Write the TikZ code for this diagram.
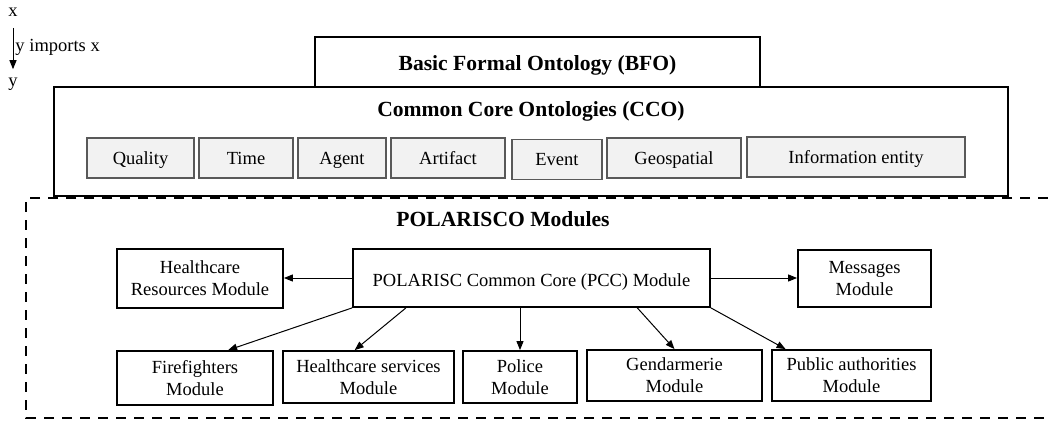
\documentclass[tikz,border=0pt]{standalone}
\usepackage{fontspec}
\setmainfont{Liberation Serif}
\usetikzlibrary{arrows.meta,calc}
\begin{document}
\begin{tikzpicture}[x=1pt,y=-1pt,font=\fontsize{18.5}{22}\selectfont,
  mod/.style={draw,line width=1.8pt,align=center,inner sep=0pt},
  part/.style={draw=black!65,fill=black!5,line width=1.4pt,inner sep=0pt,minimum height=40pt,text height=15pt,text depth=3pt},
  imp/.style={-{Triangle[length=9pt,width=7pt]},line width=1pt},
  title/.style={font=\fontsize{21.6}{24}\selectfont\bfseries}]
\useasboundingbox (0,0) rectangle (1048,420);
\draw [line width=2pt,dash pattern=on 10pt off 8pt] (1048,198) -- (26,198) -- (26,418) -- (1048,418);
\node (x) at (13,12) {x};
\node (y) at (13,84) {y};
\draw [imp,shorten <=8pt,shorten >=5pt] (x) -- (y) node (imports) [midway,right,inner sep=2pt] {y imports x};
\node (cco) [mod,minimum width=954pt,minimum height=109pt] at (531,141.5) {};
\node (ccotitle) [title] at (531,111) {Common Core Ontologies (CCO)};
\node (bfo) [mod,minimum width=445pt,minimum height=50pt] at (537.5,62) {};
\node (bfotitle) [title] at (537.5,65) {Basic Formal Ontology (BFO)};
\node (quality) [part,minimum width=107pt] at (140.5,158) {Quality};
\node (time) [part,minimum width=94pt] at (246,158) {Time};
\node (agent) [part,minimum width=88pt] at (342,158) {Agent};
\node (artifact) [part,minimum width=114pt] at (448,158) {Artifact};
\node (event) [part,minimum width=90pt] at (557,159.5) {Event};
\node (geo) [part,minimum width=134pt] at (674,158) {Geospatial};
\node (info) [part,minimum width=218pt] at (856,157) {Information entity};
\node (poltitle) [title] at (503,219) {POLARISCO Modules};
\node (hr) [mod,minimum width=166pt,minimum height=59pt] at (200,278.5) {Healthcare\\Resources Module};
\node (pcc) [mod,minimum width=357pt,minimum height=58pt,text height=17pt,text depth=1pt] at (531.5,278) {POLARISC Common Core (PCC) Module};
\node (msg) [mod,minimum width=133pt,minimum height=57pt] at (864.5,278.5) {Messages\\Module};
\node (ff) [mod,minimum width=156pt,minimum height=54pt] at (195,378) {Firefighters\\Module};
\node (hs) [mod,minimum width=171pt,minimum height=52pt] at (368.5,377) {Healthcare services\\Module};
\node (police) [mod,minimum width=114pt,minimum height=52pt] at (520,377) {Police\\Module};
\node (gend) [mod,minimum width=175pt,minimum height=51pt] at (674.5,375.5) {Gendarmerie\\Module};
\node (pub) [mod,minimum width=159pt,minimum height=51pt] at (851.5,375.5) {Public authorities\\Module};
\draw [imp] (pcc.west) -- (pcc.west -| hr.east);
\draw [imp] (pcc.east) -- (pcc.east -| msg.west);
\draw [imp] (pcc.south west) -- ($(ff.north west)!0.71!(ff.north east)$);
\draw [imp] ($(pcc.south west)!0.15!(pcc.south east)$) -- ($(hs.north west)!0.42!(hs.north east)$);
\draw [imp] (police.north |- pcc.south) -- (police.north);
\draw [imp] ($(pcc.south west)!0.795!(pcc.south east)$) -- (gend.north);
\draw [imp] (pcc.south east) -- ($(pub.north west)!0.09!(pub.north east)$);
\end{tikzpicture}
\end{document}
